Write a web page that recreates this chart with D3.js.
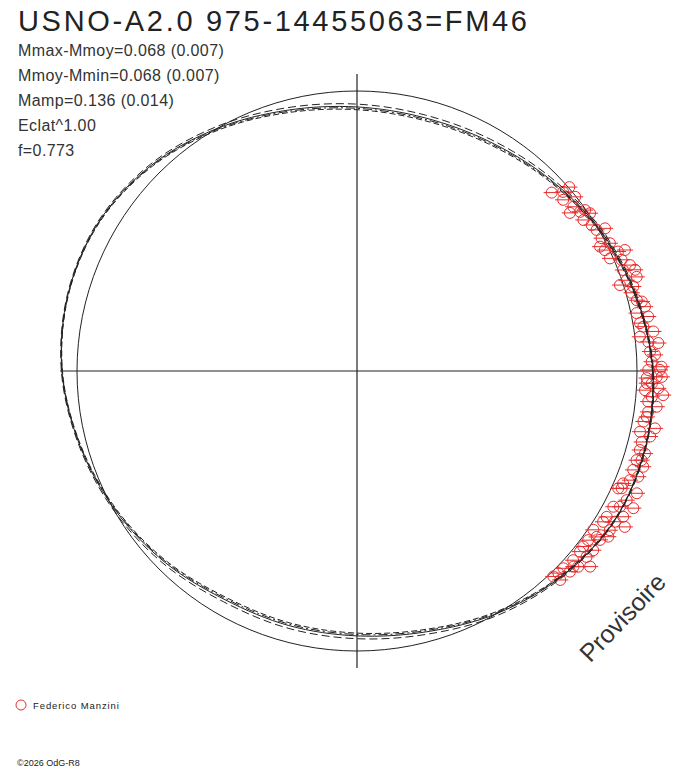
<!DOCTYPE html>
<html>
<head>
<meta charset="utf-8">
<script src="https://cdn.jsdelivr.net/npm/d3@7"></script>
<style>
    body { margin: 0; background: #fff; }
    svg { display: block; font-family: "Liberation Sans", Arial, sans-serif; }
</style>
</head>
<body>
<svg id="chart"></svg>
<script>

// Texts
const title = "USNO-A2.0 975-14455063=FM46";
const statLines = ["Mmax-Mmoy=0.068 (0.007)", "Mmoy-Mmin=0.068 (0.007)", "Mamp=0.136 (0.014)", "Eclat^1.00", "f=0.773"];
const observer = "Federico Manzini";
const stamp = "Provisoire";
const footer = "\u00a92026 OdG-R8";

// Fitted light curve: magnitude offset from mean, every 15 degrees of phase
const fitAngles = [0, 15, 30, 45, 60, 75, 90, 105, 120, 135, 150, 165,
                   180, 195, 210, 225, 240, 255, 270, 285, 300, 315, 330, 345];
const fitMag = [0.057, 0.032, 0.004, -0.029, -0.054, -0.064, -0.057, -0.036, 0.000, 0.039, 0.065, 0.068,
                0.054, 0.025, -0.004, -0.032, -0.057, -0.059, -0.054, -0.036, 0.000, 0.036, 0.064, 0.066];
// spread of the alternative fits around the main one
const fitSpread = [0.002, 0.003, 0.005, 0.007, 0.009, 0.010, 0.010, 0.009, 0.007, 0.005, 0.003, 0.002,
                   0.002, 0.003, 0.005, 0.007, 0.009, 0.010, 0.010, 0.009, 0.007, 0.004, 0.002, 0.002];

// Observations (phase angle in degrees, magnitude offset)
const obsAngles = [42.5, 40.9, 39.7, 37.2, 35.5, 34.1, 33.7, 31.9, 29.9, 28.5, 27.1, 26.8, 24.3, 24.0, 22.8,
                   20.0, 18.6, 18.6, 18.1, 17.0, 14.2, 13.7, 10.6, 11.7, 9.6, 7.6, 5.7, 5.3, 6.9, 3.8,
                   0.8, 0.2, -1.1, -2.4, -1.4, -1.1, -3.8, -4.5, -6.0, -6.8, -8.0, -10.0, -10.9, -12.1, -14.0,
                   -15.6, -16.0, -17.7, -18.5, -19.7, -20.6, -22.9, -23.6, -23.9, -25.6, -27.9, -26.4, -28.7, -31.5, -30.2,
                   -32.2, -33.9, -34.8, -36.2, -33.4, -37.2, -39.0, -39.0, -41.2, -41.5, -40.0, -43.7, -43.3, -46.3, -45.8,
                   41.0, 38.6, 36.6, 35.2, 30.5, 26.0, 24.6, 21.2, 20.8, 15.9, 12.6, 8.8, 3.1, 1.8, 0.2,
                   -2.4, -3.3, -5.0, -9.0, -12.6, -17.4, -21.8, -24.2, -27.3, -30.3, -30.3, -34.7, -37.8, -42.1, -45.1];
const obsMag = [-0.057, 0.003, -0.043, -0.030, -0.021, 0.005, -0.028, -0.013, 0.022, -0.006, -0.025, 0.012, 0.050, -0.011, 0.025,
                0.057, 0.016, 0.054, -0.012, 0.032, 0.031, 0.047, 0.058, 0.020, 0.025, 0.068, 0.046, 0.081, 0.018, 0.049,
                0.088, 0.040, 0.071, 0.036, 0.035, 0.089, 0.031, 0.097, 0.046, 0.078, 0.050, 0.039, 0.084, 0.034, 0.048,
                0.049, 0.070, 0.048, 0.078, 0.048, 0.073, 0.032, 0.091, 0.034, 0.068, 0.036, 0.102, 0.084, 0.031, 0.107,
                0.067, 0.017, 0.057, 0.023, 0.075, 0.059, 0.025, 0.055, 0.026, 0.055, 0.087, 0.020, 0.045, 0.015, 0.041,
                -0.025, -0.003, -0.053, -0.003, -0.007, -0.015, 0.025, 0.046, 0.016, 0.020, 0.054, 0.035, 0.066, 0.053, 0.082,
                0.054, 0.078, 0.057, 0.048, 0.073, 0.065, 0.050, 0.023, 0.057, 0.033, 0.067, 0.041, 0.023, 0.042, 0.019];
const obsError = 0.029;
const magHalfAmp = 0.068;


const width = 688, height = 768;
const cx = 357, cy = 371;
const axisLen = 297;
const red = "#e82c2c";
const ink = "#222";

const svg = d3.select("#chart")
    .attr("width", width)
    .attr("height", height);

// Title and statistics
svg.append("text")
    .attr("x", 18)
    .attr("y", 31)
    .attr("font-size", 29)
    .attr("fill", ink)
    .attr("textLength", 509)
    .attr("lengthAdjust", "spacing")
    .text(title);

svg.selectAll(".stat")
    .data(statLines)
    .join("text")
    .attr("class", "stat")
    .attr("x", 18)
    .attr("y", (d, i) => 56 + i * 25)
    .attr("font-size", 16)
    .attr("letter-spacing", 0.4)
    .attr("fill", "#333")
    .text(d => d);

// Scales: radius from magnitude, d3 radial angle from phase angle
const rScale = d3.scaleLinear().domain([-magHalfAmp, magHalfAmp]).range([261, 299]);
const aScale = d3.scaleLinear().domain([0, 360]).range([Math.PI / 2, Math.PI / 2 - 2 * Math.PI]);

const plot = svg.append("g").attr("transform", `translate(${cx},${cy})`);

// Axes cross
plot.append("line")
    .attr("x1", -axisLen).attr("x2", axisLen).attr("y1", 0).attr("y2", 0)
    .attr("stroke", ink).attr("stroke-width", 1.2);
plot.append("line")
    .attr("x1", 0).attr("x2", 0).attr("y1", -axisLen).attr("y2", axisLen)
    .attr("stroke", ink).attr("stroke-width", 1.2);

// Mean magnitude circle
plot.append("circle")
    .attr("r", rScale(0))
    .attr("fill", "none")
    .attr("stroke", ink)
    .attr("stroke-width", 1);

// Observations with error bars
const obs = obsAngles.map((a, i) => {
    let p = d3.pointRadial(aScale(a), rScale(obsMag[i]));
    return {a: a, m: obsMag[i], x: p[0], y: p[1]};
});
const errLen = rScale(obsError) - rScale(0);

plot.selectAll(".err")
    .data(obs)
    .join("line")
    .attr("class", "err")
    .attr("x1", d => d.x - errLen)
    .attr("x2", d => d.x + errLen)
    .attr("y1", d => d.y)
    .attr("y2", d => d.y)
    .attr("stroke", red)
    .attr("stroke-width", 1);

plot.selectAll(".obs")
    .data(obs)
    .join("circle")
    .attr("class", "obs")
    .attr("cx", d => d.x)
    .attr("cy", d => d.y)
    .attr("r", 5.5)
    .attr("fill", "none")
    .attr("stroke", red)
    .attr("stroke-width", 1);

// Fitted curve and its alternatives
const fitPts = fitAngles.map((a, i) => ({a: a, m: fitMag[i], s: fitSpread[i]}));
const variants = [
    {k: 0, dash: null},
    {k: 1, dash: "8,4"},
    {k: -1, dash: "6,3"},
    {k: -0.5, dash: "9,3,2,3"}
];

variants.forEach(v => {
    let line = d3.lineRadial()
        .angle(d => aScale(d.a))
        .radius(d => rScale(d.m + v.k * d.s))
        .curve(d3.curveCatmullRomClosed);
    plot.append("path")
        .attr("d", line(fitPts))
        .attr("fill", "none")
        .attr("stroke", ink)
        .attr("stroke-width", 1)
        .attr("stroke-dasharray", v.dash);
});

// Stamp
svg.append("text")
    .attr("transform", "translate(624,619) rotate(-46)")
    .attr("text-anchor", "middle")
    .attr("dominant-baseline", "middle")
    .attr("font-size", 25)
    .attr("fill", "#333")
    .text(stamp);

// Legend
svg.append("circle")
    .attr("cx", 21).attr("cy", 705).attr("r", 5)
    .attr("fill", "none").attr("stroke", red).attr("stroke-width", 1);
svg.append("text")
    .attr("x", 33).attr("y", 708.5)
    .attr("font-size", 9.5)
    .attr("letter-spacing", 0.9)
    .attr("fill", ink)
    .text(observer);

svg.append("text")
    .attr("x", 17).attr("y", 766)
    .attr("font-size", 9)
    .attr("fill", ink)
    .text(footer);

</script>
</body>
</html>
